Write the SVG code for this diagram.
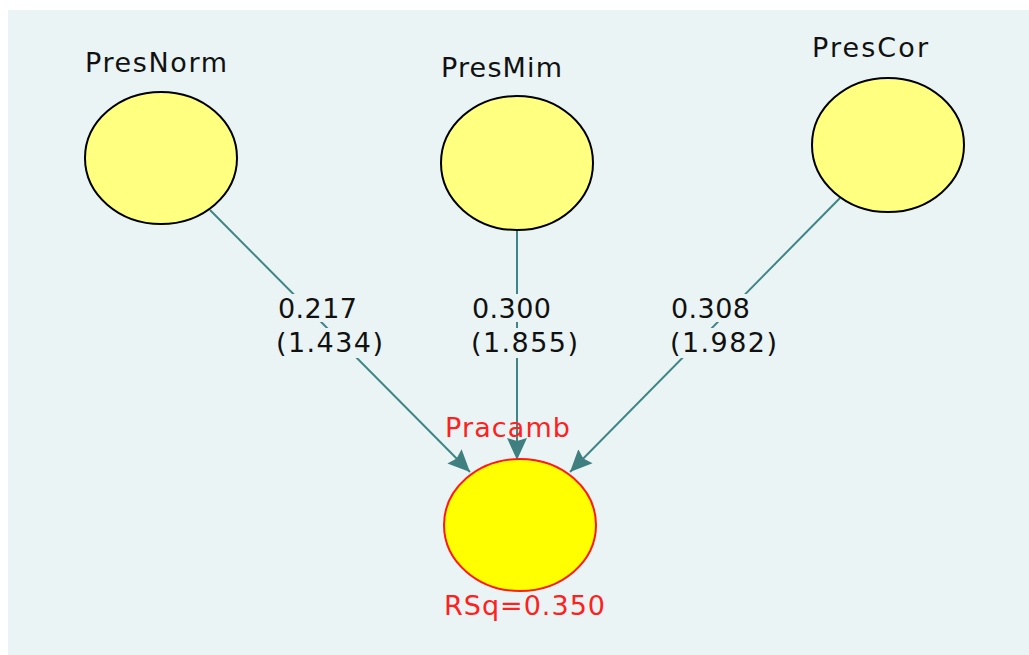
<svg xmlns="http://www.w3.org/2000/svg" width="1029" height="655" viewBox="0 0 1029 655">
  <style>
    .node { fill: #ffff80; stroke: #000; stroke-width: 2; }
    .dep { fill: #ffff00; stroke: #ff1a1a; stroke-width: 2; }
    .lbl { font-family: "DejaVu Sans", Verdana, sans-serif; font-size: 27px; fill: #111; }
    .red { fill: #ff2020; }
    .edge { stroke: #3f8585; stroke-width: 2; fill: none; marker-end: url(#arr); }
    .bg { fill: #eaf4f5; }
  </style>
  <defs>
    <marker id="arr" markerUnits="userSpaceOnUse" markerWidth="24" markerHeight="24" viewBox="0 0 24 24" refX="22" refY="12" orient="auto">
      <path d="M0,2 L22,12 L0,22 L3,12 Z" fill="#3f7f7f"/>
    </marker>
  </defs>
  <rect x="0" y="0" width="1029" height="655" fill="#ffffff"/>
  <rect x="8" y="10" width="1021" height="645" class="bg"/>

  <g id="connectors">
    <line class="edge" x1="210" y1="210" x2="470" y2="472"/>
    <line class="edge" x1="517" y1="230" x2="517" y2="460"/>
    <line class="edge" x1="840" y1="198" x2="570" y2="472"/>
    <g id="label-PresNorm-Pracamb">
      <rect class="bg" x="276" y="294" width="86" height="28"/>
      <rect class="bg" x="274" y="328" width="112" height="30"/>
      <text class="lbl" x="278" y="318" textLength="79">0.217</text>
      <text class="lbl" x="276" y="352" textLength="107">(1.434)</text>
    </g>
    <g id="label-PresMim-Pracamb">
      <rect class="bg" x="470" y="294" width="84" height="28"/>
      <rect class="bg" x="469" y="328" width="112" height="30"/>
      <text class="lbl" x="472" y="318" textLength="79">0.300</text>
      <text class="lbl" x="471" y="352" textLength="107">(1.855)</text>
    </g>
    <g id="label-PresCor-Pracamb">
      <rect class="bg" x="669" y="294" width="84" height="28"/>
      <rect class="bg" x="668" y="328" width="112" height="30"/>
      <text class="lbl" x="671" y="318" textLength="79">0.308</text>
      <text class="lbl" x="670" y="352" textLength="107">(1.982)</text>
    </g>
  </g>

  <g id="PresNorm">
    <ellipse class="node" cx="161" cy="158" rx="76" ry="66"/>
    <text class="lbl" x="85" y="72" textLength="142">PresNorm</text>
  </g>
  <g id="PresMim">
    <ellipse class="node" cx="517" cy="163" rx="76" ry="67"/>
    <text class="lbl" x="441" y="77" textLength="121">PresMim</text>
  </g>
  <g id="PresCor">
    <ellipse class="node" cx="888" cy="145" rx="76" ry="67"/>
    <text class="lbl" x="812" y="57" textLength="116">PresCor</text>
  </g>
  <g id="Pracamb">
    <ellipse class="dep" cx="520" cy="525" rx="76" ry="66"/>
    <text class="lbl red" x="445" y="437" textLength="125">Pracamb</text>
    <text class="lbl red" x="444" y="615" textLength="161">RSq=0.350</text>
  </g>
</svg>
